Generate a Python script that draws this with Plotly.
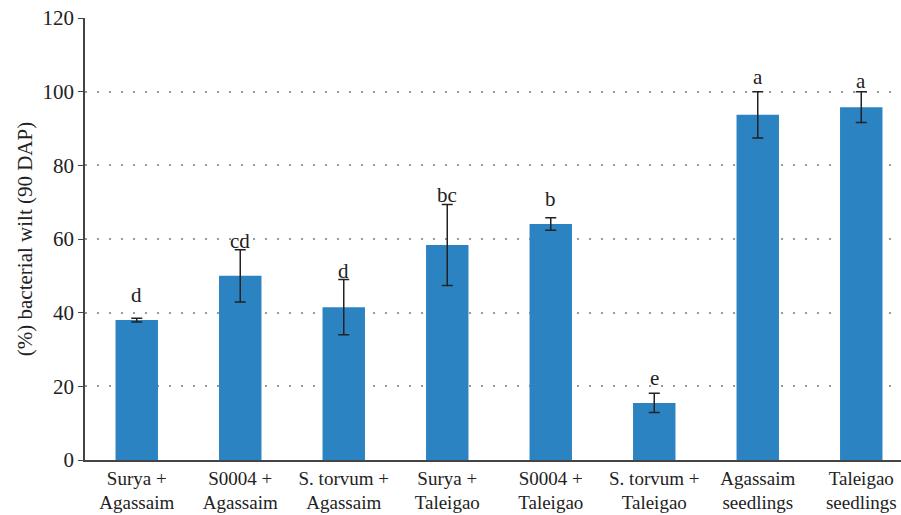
import plotly.graph_objects as go

categories = [
    "Surya +<br>Agassaim", "S0004 +<br>Agassaim", "S. torvum +<br>Agassaim",
    "Surya +<br>Taleigao", "S0004 +<br>Taleigao", "S. torvum +<br>Taleigao",
    "Agassaim<br>seedlings", "Taleigao<br>seedlings",
]
wilt_pct = [38.0, 50.0, 41.5, 58.4, 64.1, 15.5, 93.7, 95.8]
wilt_err = [0.5, 7.1, 7.5, 11.0, 1.7, 2.6, 6.3, 4.2]
letters = ["d", "cd", "d", "bc", "b", "e", "a", "a"]

FONT = "Liberation Serif, Times New Roman, serif"
INK = "#222222"
x_idx = list(range(len(categories)))

# vertical nudge (px) of each significance letter above its error cap
letter_nudge = [9, -5, -5, -5, 5, 1, 1, -3]

fig = go.Figure()
fig.add_trace(go.Bar(
    x=x_idx, y=wilt_pct, width=0.41,
    marker=dict(color="#2B83C2", line=dict(width=0)),
    error_y=dict(type="data", array=wilt_err, visible=True,
                 color=INK, thickness=1.5, width=5.5),
    showlegend=False,
))

for xi, v, e, lab, dy in zip(x_idx, wilt_pct, wilt_err, letters, letter_nudge):
    fig.add_annotation(x=xi, y=v + e, text=lab, showarrow=False,
                       yanchor="bottom", yshift=dy,
                       font=dict(family=FONT, size=21, color=INK))

fig.update_layout(
    width=901, height=515,
    margin=dict(l=85, r=0, t=18, b=55),
    plot_bgcolor="white", paper_bgcolor="white",
    font=dict(family=FONT, size=20, color=INK),
)
fig.update_xaxes(
    tickmode="array", tickvals=x_idx, ticktext=categories,
    range=[-0.5, 7.384], showgrid=False, zeroline=False, automargin=False,
    showline=True, linecolor="#444444", linewidth=1.5,
    ticks="", tickfont=dict(family=FONT, size=19, color=INK),
)
fig.update_yaxes(
    range=[0, 120], tickvals=[0, 20, 40, 60, 80, 100, 120],
    showgrid=True, gridcolor="#9a9a9a", gridwidth=1.5, griddash="1.5px,10.5px",
    zeroline=False, showline=True, linecolor="#444444", linewidth=1.5,
    ticks="outside", ticklen=5, tickcolor="#444444", automargin=False,
    tickfont=dict(family=FONT, size=21, color=INK),
    title=dict(text="(%) bacterial wilt (90 DAP)", standoff=4,
               font=dict(family=FONT, size=21, color=INK)),
)

fig.write_html("out.html")
